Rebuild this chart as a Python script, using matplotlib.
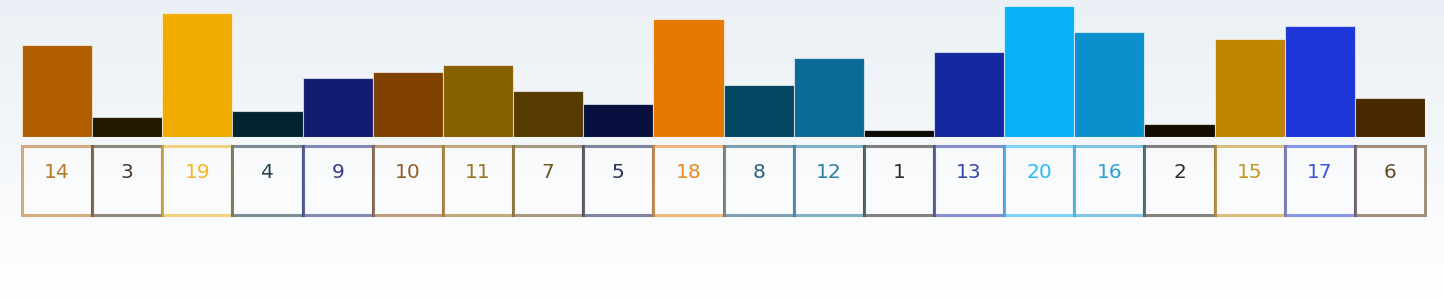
import numpy as np
import matplotlib
matplotlib.use("Agg")
from matplotlib import pyplot as plt
from matplotlib.patches import Rectangle

# bar values, left to right
values = [14, 3, 19, 4, 9, 10, 11, 7, 5, 18, 8, 12, 1, 13, 20, 16, 2, 15, 17, 6]
colors = ["#b05e00", "#241800", "#f0ac00", "#03222f", "#111c70",
          "#804000", "#876000", "#553b00", "#07103e", "#e67800",
          "#054762", "#0a6b96", "#0c0a05", "#1428a0", "#0ab0f8",
          "#0a90cc", "#140c00", "#c08400", "#1c36d8", "#4a2800"]
labels = [str(v) for v in values]

W, H = 1444, 299
fig = plt.figure(figsize=(W / 100, H / 100), dpi=100)

# soft vertical background gradient
bg = fig.add_axes([0, 0, 1, 1])
grad = np.linspace(0, 1, 256).reshape(-1, 1)
top = np.array([0.918, 0.941, 0.961])
bot = np.array([1.0, 1.0, 1.0])
img = top + (bot - top) * grad[..., None]
bg.imshow(img, aspect="auto", extent=[0, 1, 0, 1], origin="upper")
bg.set_axis_off()

# main axes: baseline at y=137px, value 20 at y=6px
x0, x1 = 22, 1425
base, top_px = 137, 6
ax = fig.add_axes([x0 / W, (H - base) / H, (x1 - x0) / W, (base - top_px) / H])
ax.set_xlim(0, len(values))
ax.set_ylim(0, 20)
ax.set_axis_off()

xs = np.arange(len(values))
ax.bar(xs, values, width=1.0, align="edge", color=colors,
       edgecolor=(1, 1, 1, 0.6), linewidth=0.8)

# label boxes beneath the bars
ppu = (base - top_px) / 20.0
box_top = -(145.5 - base) / ppu
box_bot = -(214.5 - base) / ppu
text_y = -(172 - base) / ppu
for i, (lab, c) in enumerate(zip(labels, colors)):
    ax.add_patch(Rectangle((i, box_bot), 1, box_top - box_bot,
                           facecolor=(1, 1, 1, 0.35), edgecolor=c,
                           linewidth=2.2, alpha=None, clip_on=False,
                           zorder=2))
    ax.patches[-1].set_edgecolor(matplotlib.colors.to_rgba(c, 0.5))
    ax.text(i + 0.5, text_y, lab, ha="center", va="center",
            fontsize=14.5, color=matplotlib.colors.to_rgba(c, 0.85),
            family="DejaVu Sans", clip_on=False, zorder=3)

fig.savefig("out.png", dpi=100)
